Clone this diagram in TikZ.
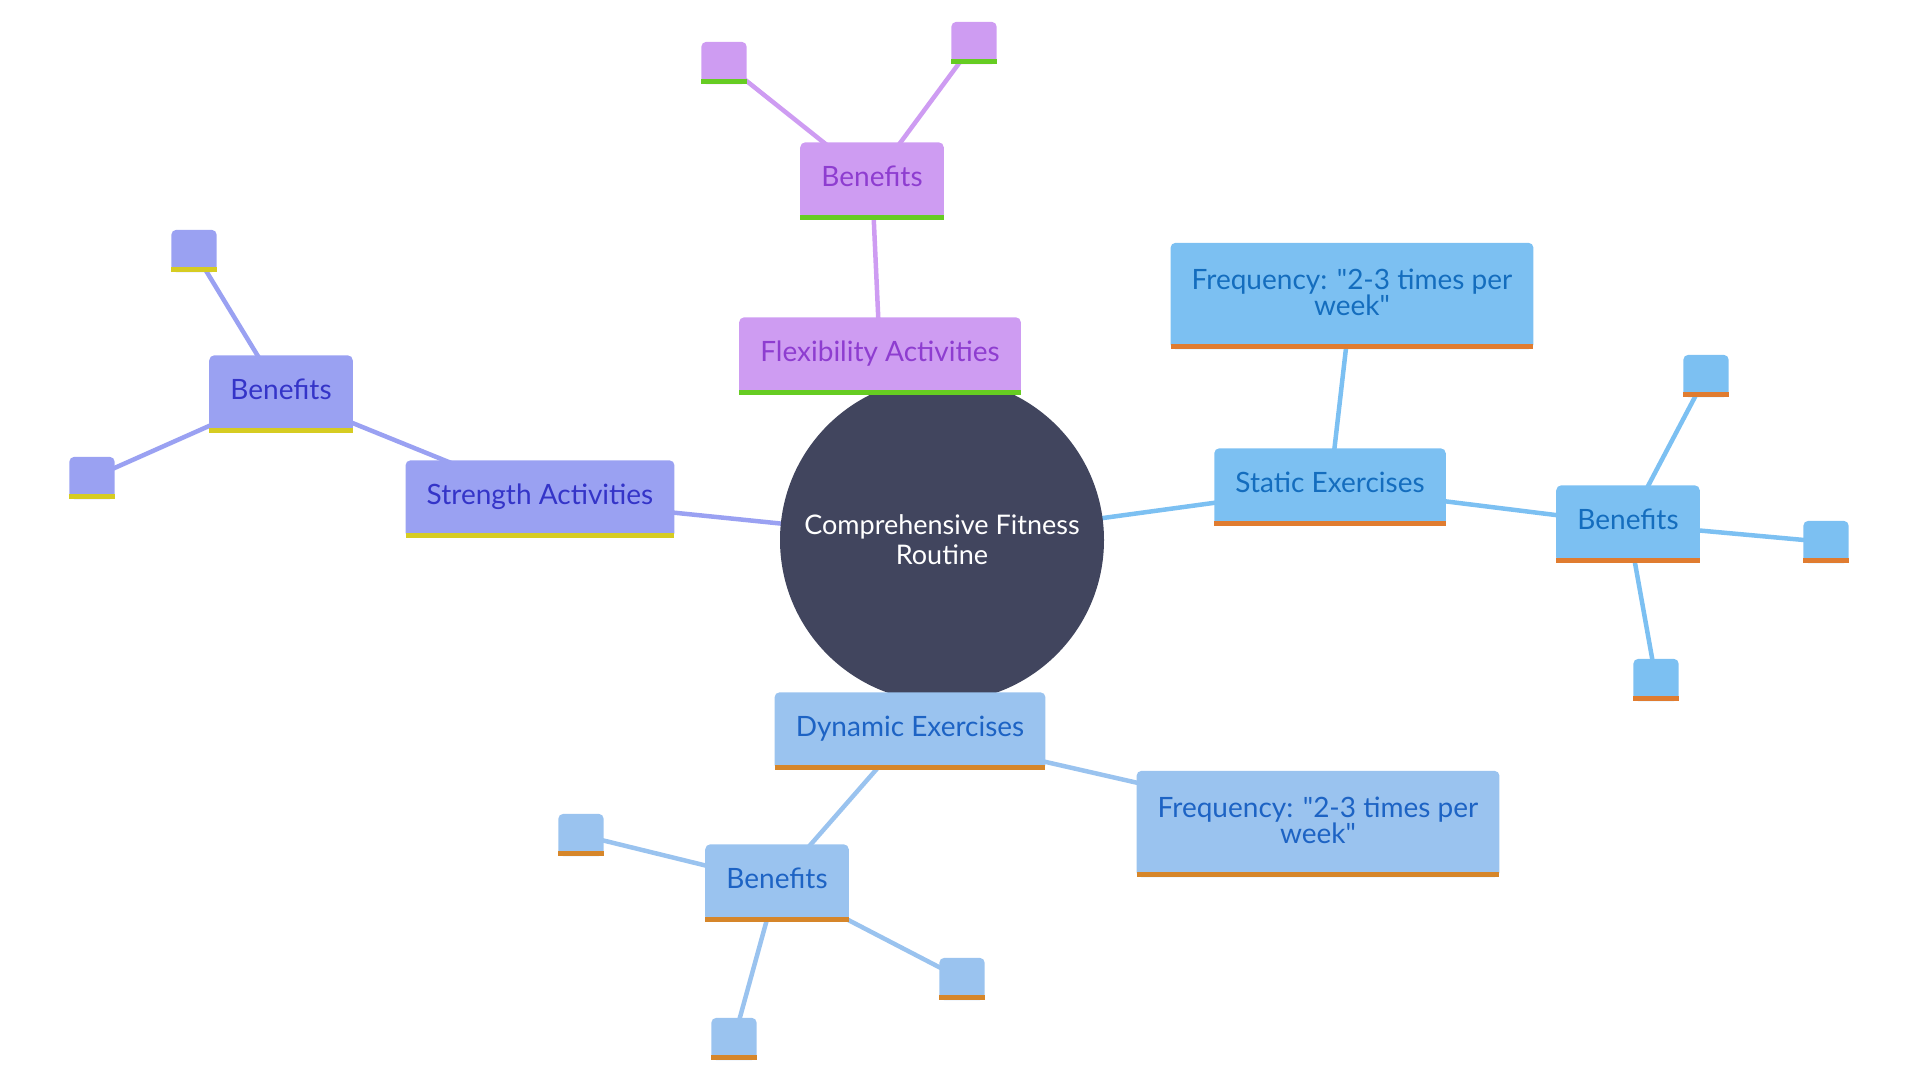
\documentclass[tikz,border=0pt]{standalone}
\usepackage{fontspec}
\newfontfamily\mapfont{Lato}
\usetikzlibrary{backgrounds}

\definecolor{rootfill}{HTML}{41455E}
\definecolor{flexfill}{HTML}{CE9CF2}
\definecolor{flextext}{HTML}{8E3DD0}
\definecolor{flexbar}{HTML}{66CC22}
\definecolor{strfill}{HTML}{9AA1F2}
\definecolor{strtext}{HTML}{3434C8}
\definecolor{strbar}{HTML}{D6CC22}
\definecolor{statfill}{HTML}{7CC0F2}
\definecolor{stattext}{HTML}{146DBE}
\definecolor{statbar}{HTML}{E07C30}
\definecolor{dynfill}{HTML}{9AC3EF}
\definecolor{dyntext}{HTML}{1D63C4}
\definecolor{dynbar}{HTML}{D6862A}

\tikzset{
  box/.style n args={3}{rectangle, text=#2,
    inner xsep=21pt, inner ysep=0pt, minimum height=77pt,
    text height=20pt, text depth=10pt,
    font=\mapfont\fontsize{28}{26}\selectfont, align=center,
    append after command={\pgfextra{%
      \fill[#1, rounded corners=5pt] (\tikzlastnode.south west)
        rectangle (\tikzlastnode.north east);
      \fill[#3] (\tikzlastnode.south west)
        rectangle ([yshift=5pt]\tikzlastnode.south east);}}},
  flexbox/.style={box={flexfill}{flextext}{flexbar}},
  strbox/.style={box={strfill}{strtext}{strbar}},
  statbox/.style={box={statfill}{stattext}{statbar}},
  dynbox/.style={box={dynfill}{dyntext}{dynbar}},
  freq/.style={minimum height=106pt, text height=46pt, text depth=8pt},
  leaf/.style={minimum width=45pt, minimum height=42pt, inner sep=0pt,
    text height=0pt, text depth=0pt},
  link/.style={line width=4.5pt, draw=#1},
}

\begin{document}
\begin{tikzpicture}[x=1pt,y=-1pt]
\useasboundingbox (0,0) rectangle (1920,1080);

% root
\node[circle, fill=rootfill, text=white, minimum size=324pt, inner sep=0pt,
  align=center, font=\mapfont\fontsize{27}{30}\selectfont] (root) at (942,540)
  {Comprehensive Fitness\\Routine};

% flexibility branch
\node[flexbox] (flex) at (880,356) {Flexibility Activities};
\node[flexbox] (flexben) at (872,181) {Benefits};
\node[flexbox, leaf] (flexleafA) at (724,63) {};
\node[flexbox, leaf] (flexleafB) at (974,43) {};

% strength branch
\node[strbox] (str) at (540,499) {Strength Activities};
\node[strbox] (strben) at (281,394) {Benefits};
\node[strbox, leaf] (strleafA) at (194,251) {};
\node[strbox, leaf] (strleafB) at (92,478) {};

% static branch
\node[statbox] (stat) at (1330,487) {Static Exercises};
\node[statbox, freq] (statfreq) at (1352,296) {Frequency: "2-3 times per\\week"};
\node[statbox] (statben) at (1628,524) {Benefits};
\node[statbox, leaf] (statleafA) at (1706,376) {};
\node[statbox, leaf] (statleafB) at (1826,542) {};
\node[statbox, leaf] (statleafC) at (1656,680) {};

% dynamic branch
\node[dynbox] (dyn) at (910,731) {Dynamic Exercises};
\node[dynbox, freq] (dynfreq) at (1318,824) {Frequency: "2-3 times per\\week"};
\node[dynbox] (dynben) at (777,883) {Benefits};
\node[dynbox, leaf] (dynleafA) at (581,835) {};
\node[dynbox, leaf] (dynleafB) at (962,979) {};
\node[dynbox, leaf] (dynleafC) at (734,1039) {};

% connectors
\begin{scope}[on background layer]
  \draw[link=flexfill] (root.center) -- (flex.center);
  \draw[link=flexfill] (flex.center) -- (flexben.center);
  \draw[link=flexfill] (flexben.center) -- (flexleafA.center);
  \draw[link=flexfill] (flexben.center) -- (flexleafB.center);
  \draw[link=strfill] (root.center) -- (str.center);
  \draw[link=strfill] (str.center) -- (strben.center);
  \draw[link=strfill] (strben.center) -- (strleafA.center);
  \draw[link=strfill] (strben.center) -- (strleafB.center);
  \draw[link=statfill] (root.center) -- (stat.center);
  \draw[link=statfill] (stat.center) -- (statfreq.center);
  \draw[link=statfill] (stat.center) -- (statben.center);
  \draw[link=statfill] (statben.center) -- (statleafA.center);
  \draw[link=statfill] (statben.center) -- (statleafB.center);
  \draw[link=statfill] (statben.center) -- (statleafC.center);
  \draw[link=dynfill] (root.center) -- (dyn.center);
  \draw[link=dynfill] (dyn.center) -- (dynfreq.center);
  \draw[link=dynfill] (dyn.center) -- (dynben.center);
  \draw[link=dynfill] (dynben.center) -- (dynleafA.center);
  \draw[link=dynfill] (dynben.center) -- (dynleafB.center);
  \draw[link=dynfill] (dynben.center) -- (dynleafC.center);
\end{scope}

\end{tikzpicture}
\end{document}
